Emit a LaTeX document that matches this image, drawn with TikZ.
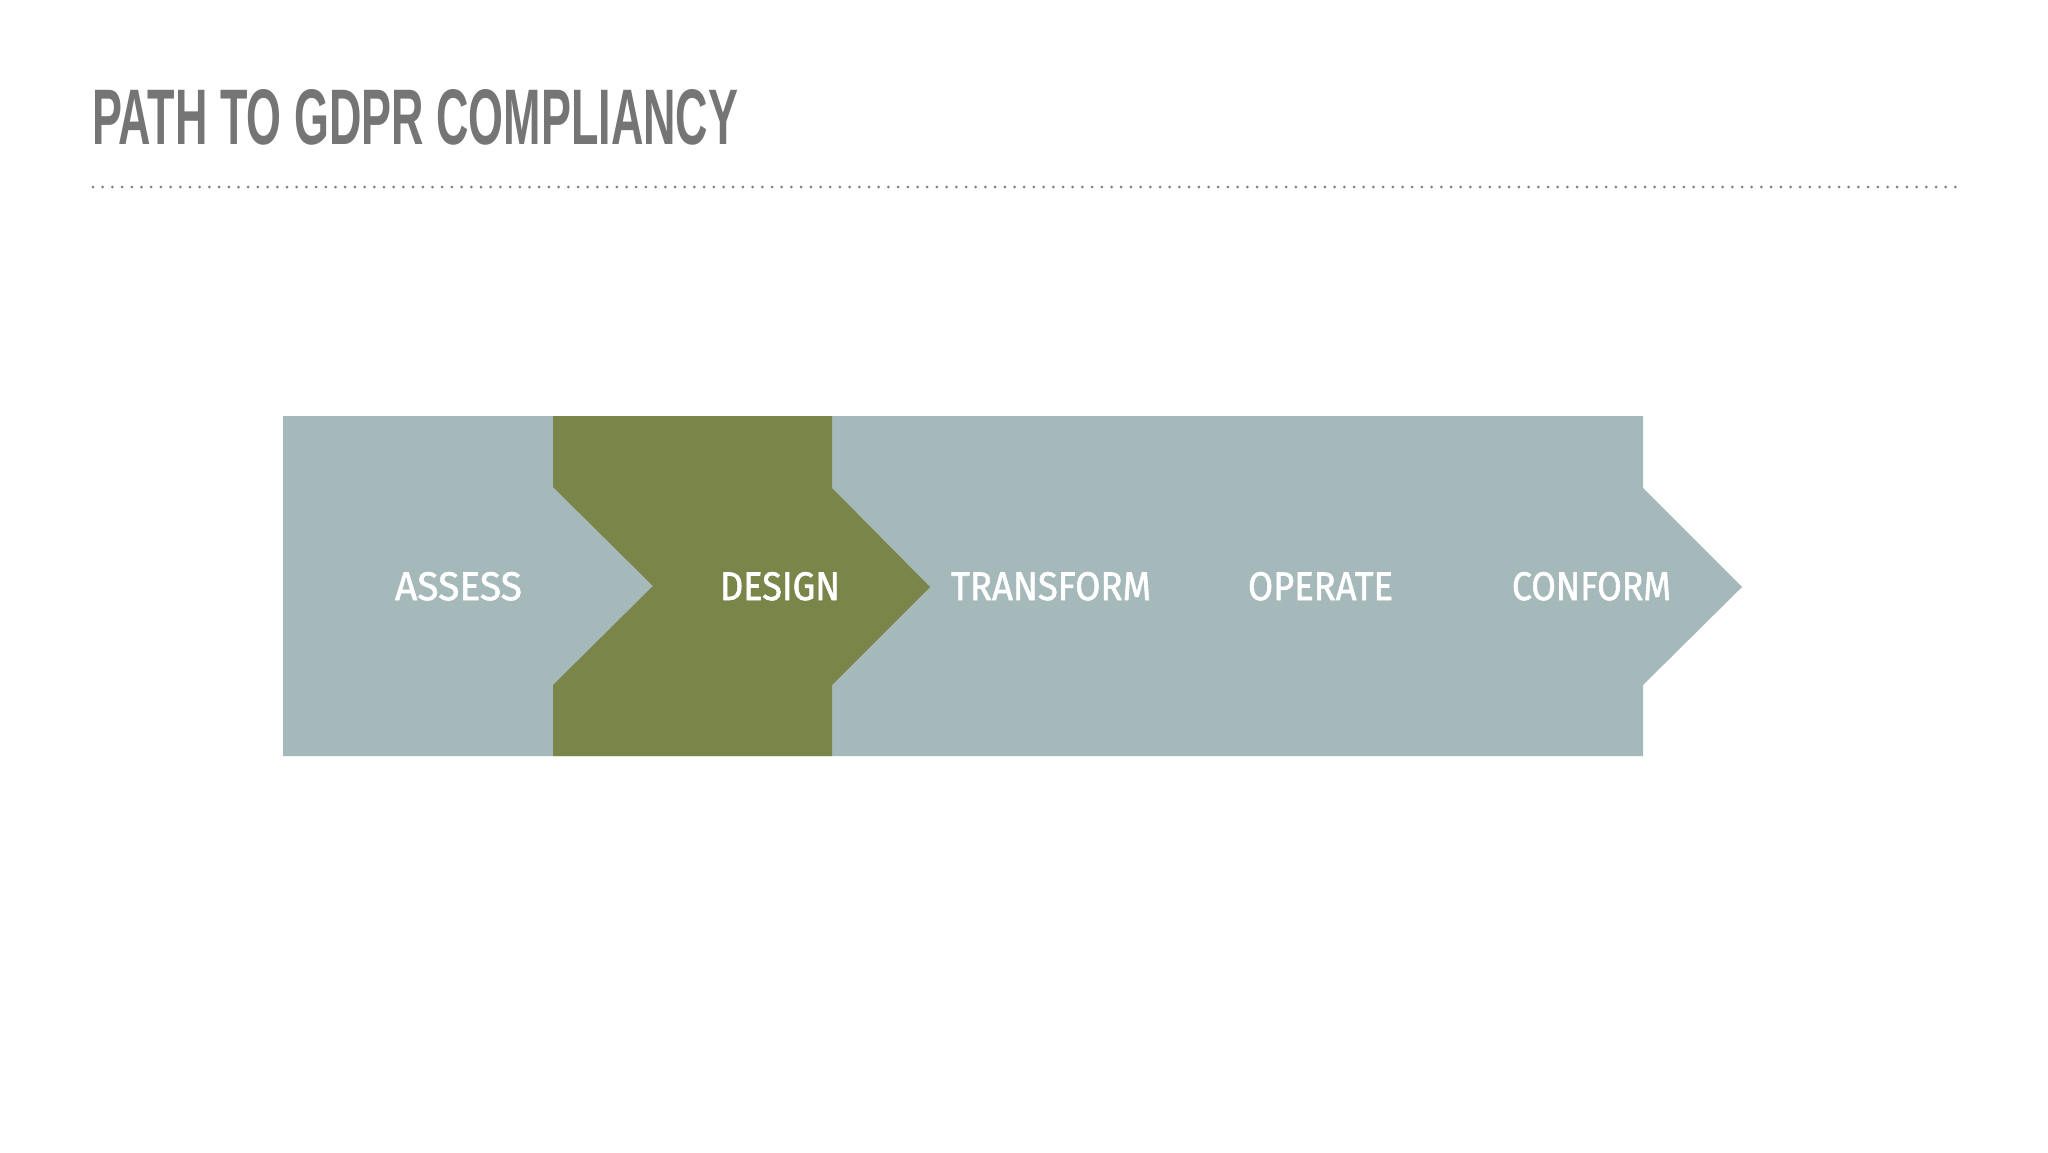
\documentclass[tikz,border=0pt]{standalone}
\usepackage{fontspec}
\usepackage{graphicx}
\setmainfont{Liberation Sans}
\newfontfamily\labelfont[FakeBold=1.5]{Fira Sans}
\definecolor{slate}{HTML}{A6B9BA}
\definecolor{olive}{HTML}{7A8549}
\definecolor{titlegray}{HTML}{757575}
\definecolor{dotgray}{HTML}{808080}
\newcommand{\fitword}[3]{\resizebox{#1pt}{#2pt}{#3}}
\tikzset{
  band/.style={fill=slate, draw=none},
  active/.style={fill=olive, draw=none},
  steplabel/.style={text=white, inner sep=0pt, anchor=base, font=\labelfont},
  titletext/.style={text=titlegray, inner sep=0pt, anchor=base west, font=\bfseries},
  dotrule/.style={draw=dotgray, line width=3pt, line cap=round, dash pattern=on 0pt off 9.7pt}
}
\begin{document}
\begin{tikzpicture}[x=1pt, y=-1pt]
\useasboundingbox (0,0) rectangle (2048,1152);
\fill[white] (0,0) rectangle (2048,1152);
% title
\node[titletext] (title) at (92,144) {\fitword{646}{55}{PATH TO GDPR COMPLIANCY}};
\coordinate (ruleL) at (93,187);
\coordinate (ruleR) at (1960,187);
\draw[dotrule] (ruleL) -- (ruleR);
% band arrow
\path[band] (283,416) -- (1643,416) -- (1643,488) -- (1742,587) -- (1643,685) -- (1643,756) -- (283,756) -- cycle;
% highlighted chevron
\path[active] (553,416) -- (832,416) -- (832,488) -- (930,587) -- (832,685) -- (832,756) -- (553,756) -- (553,685) -- (653,586) -- (553,487) -- cycle;
% labels
\node[steplabel] (assess) at (458.5,600) {\fitword{127}{28}{ASSESS}};
\node[steplabel] (design) at (780,600) {\fitword{120}{28}{DESIGN}};
\node[steplabel] (transform) at (1051,600) {\fitword{200}{28}{TRANSFORM}};
\node[steplabel] (operate) at (1320.5,600) {\fitword{145}{28}{OPERATE}};
\node[steplabel] (conform) at (1591.5,600) {\fitword{159}{28}{CONFORM}};
\end{tikzpicture}
\end{document}
